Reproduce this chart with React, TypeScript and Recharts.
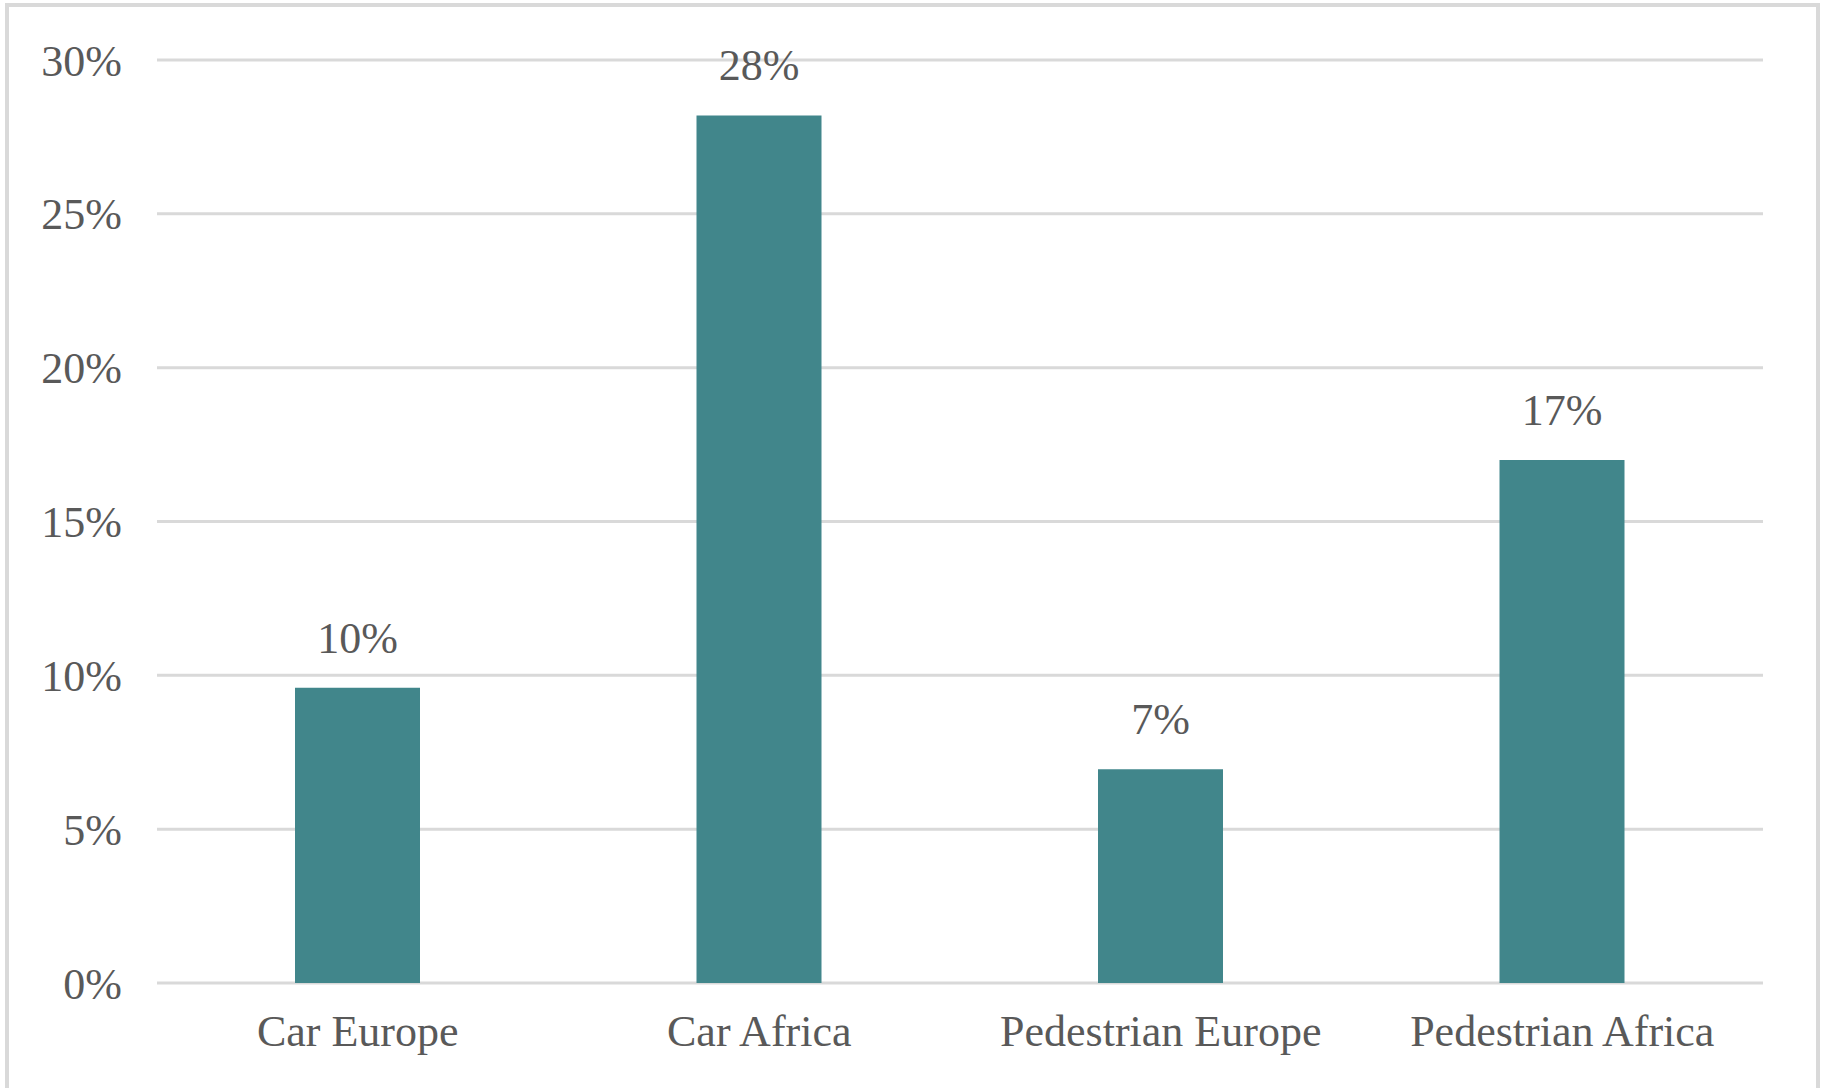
import React from 'react'
import { BarChart, Bar, XAxis, YAxis, CartesianGrid, LabelList } from 'recharts'

const categories = ['Car Europe', 'Car Africa', 'Pedestrian Europe', 'Pedestrian Africa']
const shares = [9.6, 28.2, 6.95, 17.0]
const yTicks = [0, 5, 10, 15, 20, 25, 30]

const data = categories.map((name, i) => ({ name, value: shares[i] }))

const FONT = '"Liberation Serif", "Times New Roman", serif'
const TEXT = '#595959'

export default function App() {
    return (
        <div style={{ position: 'absolute', left: 0, top: 0, width: 1825, height: 1088, overflow: 'hidden', background: '#fff' }}>
            {/* outer frame, bottom edge runs off the page */}
            <div
                style={{
                    position: 'absolute',
                    left: 5,
                    top: 3,
                    width: 1815,
                    height: 1200,
                    border: '4px solid #d9d9d9',
                    boxSizing: 'border-box',
                }}
            />
            <div style={{ position: 'absolute', left: 0, top: 0 }}>
                <BarChart
                    width={1825}
                    height={1088}
                    data={data}
                    margin={{ top: 60, right: 62, bottom: 0, left: 0 }}
                >
                    <CartesianGrid vertical={false} stroke="#d9d9d9" strokeWidth={3} />
                    <XAxis
                        dataKey="name"
                        height={105}
                        axisLine={false}
                        tickLine={false}
                        tickSize={0}
                        tickMargin={32}
                        interval={0}
                        tick={{ fill: TEXT, fontSize: 44, fontFamily: FONT }}
                    />
                    <YAxis
                        width={157}
                        domain={[0, 30]}
                        ticks={yTicks}
                        axisLine={false}
                        tickLine={false}
                        tickSize={0}
                        tickMargin={35}
                        tickFormatter={(v: number) => `${v}%`}
                        tick={{ fill: TEXT, fontSize: 44, fontFamily: FONT }}
                    />
                    <Bar dataKey="value" fill="#41868B" barSize={125} isAnimationActive={false}>
                        <LabelList
                            dataKey="value"
                            position="top"
                            offset={35}
                            formatter={(v: any) => `${Math.round(Number(v))}%`}
                            style={{ fill: TEXT, fontSize: 44, fontFamily: FONT }}
                        />
                    </Bar>
                </BarChart>
            </div>
        </div>
    )
}
